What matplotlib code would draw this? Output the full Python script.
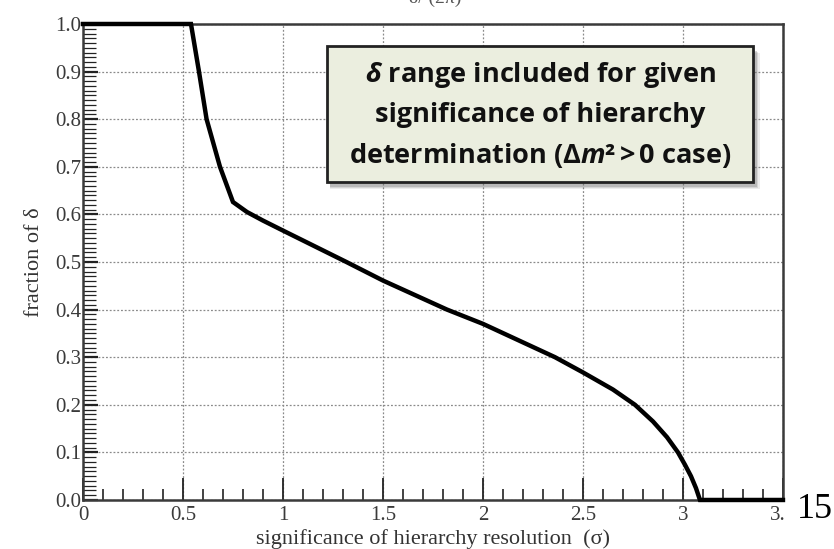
import matplotlib.pyplot as plt
import numpy as np
from matplotlib.patches import Rectangle
from matplotlib.ticker import MultipleLocator

# significance of hierarchy resolution vs. fraction of delta covered
sigma = [0.0, 0.54, 0.58, 0.618, 0.685, 0.75, 0.82, 0.9, 1.0, 1.317, 1.5, 1.82, 2.0,
         2.36, 2.5, 2.65, 2.76, 2.85, 2.92, 2.975, 3.01, 3.04, 3.065, 3.085, 3.5]
fraction = [1.0, 1.0, 0.9, 0.8, 0.7, 0.626, 0.605, 0.587, 0.566, 0.5, 0.461, 0.4, 0.37,
            0.3, 0.268, 0.232, 0.2, 0.165, 0.132, 0.1, 0.074, 0.05, 0.025, 0.0, 0.0]

xticks = [0, 0.5, 1, 1.5, 2, 2.5, 3, 3.5]
xticklabels = ['0', '0.5', '1', '1.5', '2', '2.5', '3', '3.5']
yticks = np.arange(0, 1.01, 0.1)
yticklabels = [f'{v:.1f}' for v in yticks]

box_lines = [r'$\delta$ range included for given',
             'significance of hierarchy',
             r'determination (Δ$m$²$\,$>$\,$0 case)']

plt.rcParams['mathtext.fontset'] = 'custom'
plt.rcParams['mathtext.it'] = 'Open Sans:bold:italic'
plt.rcParams['mathtext.rm'] = 'Open Sans:bold'

fig = plt.figure(figsize=(8.34, 5.49), dpi=100)
ax = fig.add_axes([0.0995, 0.0893, 0.8393, 0.867])

ax.plot(sigma, fraction, color='black', lw=3.2, solid_joinstyle='miter',
        clip_on=False, zorder=5)

ax.set_xlim(0, 3.5)
ax.set_ylim(0, 1.0)
ax.set_xticks(xticks)
ax.set_xticklabels(xticklabels)
ax.set_yticks(yticks)
ax.set_yticklabels(yticklabels)
ax.xaxis.set_minor_locator(MultipleLocator(0.1))
ax.yaxis.set_minor_locator(MultipleLocator(0.01))
ax.tick_params(which='both', direction='in', top=False, right=False,
               labelsize=15, color='#222222')
ax.tick_params(axis='x', which='major', length=16, width=1.3, pad=4)
ax.tick_params(axis='x', which='minor', length=8, width=1.2)
ax.tick_params(axis='y', which='major', length=11, width=1.6, pad=1)
ax.tick_params(axis='y', which='minor', length=9, width=0.9)
for lab in ax.get_xticklabels() + ax.get_yticklabels():
    lab.set_family('Liberation Serif')
    lab.set_color('#3a3a3a')

ax.grid(True, which='major', linestyle=(0, (1.5, 1.5)), color='#8a8a8a', lw=0.9)
for s in ax.spines.values():
    s.set_linewidth(1.8)
    s.set_color('#3a3a3a')

ax.set_xlabel('significance of hierarchy resolution  (σ)', family='Liberation Serif',
              fontsize=16, color='#333333', labelpad=3)
ax.set_ylabel('fraction of δ', family='Liberation Serif', fontsize=16,
              color='#333333', labelpad=8)

# annotation box with a soft drop shadow
bx, by, bw, bh = 0.349, 0.667, 0.608, 0.287
for k, a in enumerate([0.12, 0.18, 0.28]):
    d = 0.002 * (3 - k)
    ax.add_patch(Rectangle((bx + 0.004, by - 0.008 - d), bw + d, bh, transform=ax.transAxes,
                           facecolor='#707070', edgecolor='none', alpha=a, zorder=6))
ax.add_patch(Rectangle((bx, by), bw, bh, transform=ax.transAxes,
                       facecolor='#ebeedf', edgecolor='#222222', lw=2, zorder=7))
for i, line in enumerate(box_lines):
    ax.text(0.653, 0.893 - i * 0.085, line, transform=ax.transAxes, ha='center',
            va='center', family='Open Sans', fontweight='bold', fontsize=19.5,
            color='#111111', zorder=8)

# page number over the last tick label, and the cut-off heading
fig.patches.append(Rectangle((786 / 834, 0.0), 48 / 834, 0.086, transform=fig.transFigure,
                             facecolor='white', edgecolor='none', zorder=9))
fig.text(797 / 834, 1 - 510 / 549, '15', family='Liberation Serif', fontsize=26,
         ha='left', va='center', color='black', zorder=10)
fig.text(0.522, 1.003, 'δ/ (2π)', family='Liberation Serif', fontsize=14,
         ha='center', va='center', color='#555555')

fig.savefig('out.png', dpi=100)
